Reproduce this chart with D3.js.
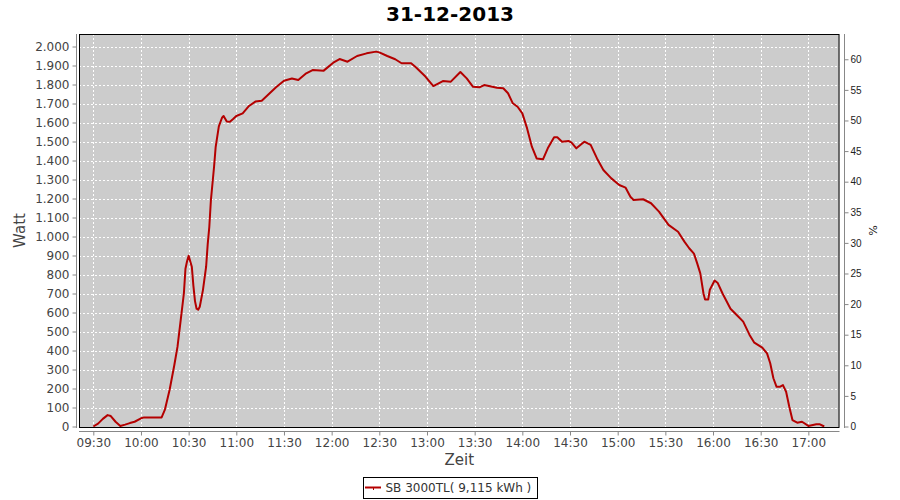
<!DOCTYPE html>
<html>
<head>
<meta charset="utf-8">
<script src="https://cdn.jsdelivr.net/npm/d3@7"></script>
<style>
  html, body { margin: 0; padding: 0; background: #fff; }
  svg { display: block; }
</style>
</head>
<body>
<svg id="chart" width="900" height="500"></svg>
<script>
const chartTitle = "31-12-2013";
const yLabel = "Watt";
const xLabel = "Zeit";
const y2Label = "%";
const legendLabel = "SB 3000TL( 9,115 kWh )";

const times = [
  "09:30","09:33","09:36","09:39","09:41","09:44","09:47","09:50","09:53","09:56",
  "10:00","10:02","10:08","10:13","10:15","10:18","10:21","10:23","10:25","10:27",
  "10:28","10:29","10:30","10:32","10:33","10:34","10:35","10:36","10:37","10:39",
  "10:41","10:42","10:43","10:44","10:46","10:47","10:49","10:51","10:52","10:53",
  "10:54","10:56","10:58","11:00","11:04","11:08","11:12","11:16","11:21","11:25",
  "11:30","11:35","11:39","11:44","11:48","11:55","12:01","12:05","12:10","12:16",
  "12:22","12:28","12:30","12:35","12:40","12:44","12:50","12:53","12:59","13:04",
  "13:10","13:15","13:21","13:25","13:29","13:33","13:36","13:44","13:48","13:51",
  "13:54","13:57","14:00","14:03","14:06","14:09","14:13","14:16","14:20","14:22",
  "14:25","14:29","14:31","14:34","14:39","14:43","14:47","14:51","14:56","15:01",
  "15:05","15:08","15:10","15:16","15:21","15:26","15:32","15:38","15:42","15:45",
  "15:48","15:50","15:52","15:54","15:55","15:57","15:58","16:01","16:03","16:06",
  "16:11","16:16","16:19","16:23","16:26","16:31","16:34","16:36","16:38","16:40",
  "16:42","16:44","16:46","16:48","16:50","16:53","16:56","17:00","17:05","17:07",
  "17:10"
];
const watts = [
  0,15,40,60,55,25,3,10,18,25,
  43,48,48,48,87,192,324,420,560,700,
  830,870,899,841,740,660,620,615,630,718,
  841,960,1050,1190,1367,1470,1580,1625,1634,1620,
  1605,1604,1618,1634,1648,1687,1710,1715,1754,1785,
  1820,1832,1824,1859,1876,1873,1915,1934,1920,1950,
  1964,1973,1969,1950,1933,1912,1912,1891,1842,1792,
  1818,1815,1866,1832,1788,1785,1797,1783,1780,1754,
  1701,1683,1648,1569,1473,1411,1406,1464,1522,1522,
  1499,1503,1494,1464,1499,1482,1411,1350,1306,1271,
  1257,1209,1192,1196,1175,1131,1061,1025,973,938,
  910,860,806,700,669,669,720,768,755,700,
  620,578,552,482,441,415,385,333,254,209,
  209,218,183,104,34,20,25,3,12,12,
  0
];
const xTickLabels = ["09:30","10:00","10:30","11:00","11:30","12:00","12:30","13:00","13:30","14:00","14:30","15:00","15:30","16:00","16:30","17:00"];
const yTickValues = d3.range(0, 2001, 100);
const pctTickValues = d3.range(0, 61, 5);

const parse = d3.timeParse("%H:%M");
const parseS = d3.timeParse("%H:%M:%S");
const data = times.map((t, i) => ({ t: parse(t), w: watts[i] }));

const svg = d3.select("#chart");
const plot = { left: 79, right: 839.5, top: 34, bottom: 427 };

const x = d3.scaleTime()
  .domain([parseS("09:21:00"), parseS("17:19:36")])
  .range([plot.left, plot.right]);
const y = d3.scaleLinear().domain([0, 2065.8]).range([426.5, plot.top]);
const y2 = d3.scaleLinear().domain([0, 64.13]).range([426.5, plot.top]);

const de = d3.formatLocale({ decimal: ",", thousands: ".", grouping: [3], currency: ["", "€"] });
const fmt = de.format(",d");

// plot background
svg.append("rect")
  .attr("x", plot.left).attr("y", plot.top)
  .attr("width", plot.right - plot.left).attr("height", plot.bottom - plot.top)
  .attr("fill", "#cccccc");

// grid
const grid = svg.append("g").attr("stroke", "#ffffff").attr("stroke-width", 1).attr("stroke-dasharray", "2,2");
yTickValues.forEach(v => {
  grid.append("line")
    .attr("x1", plot.left).attr("x2", plot.right)
    .attr("y1", Math.round(y(v)) + 0.5).attr("y2", Math.round(y(v)) + 0.5);
});
xTickLabels.forEach(s => {
  const px = Math.round(x(parse(s))) + 0.5;
  grid.append("line")
    .attr("x1", px).attr("x2", px)
    .attr("y1", plot.top).attr("y2", plot.bottom);
});

// line
svg.append("path")
  .datum(data)
  .attr("fill", "none")
  .attr("stroke", "#b40000")
  .attr("stroke-width", 2)
  .attr("stroke-linejoin", "round")
  .attr("d", d3.line().x(d => x(d.t)).y(d => y(d.w)));

// plot border
svg.append("rect")
  .attr("x", plot.left + 0.5).attr("y", plot.top + 0.5)
  .attr("width", plot.right - plot.left - 1).attr("height", plot.bottom - plot.top)
  .attr("fill", "none").attr("stroke", "#000").attr("stroke-width", 1);

// left axis
const leftAxis = d3.axisLeft(y).tickValues(yTickValues).tickFormat(fmt).tickSizeInner(4).tickSizeOuter(0).tickPadding(3);
const gL = svg.append("g").attr("transform", "translate(76.5,0)").call(leftAxis);
gL.select(".domain").attr("stroke", "#888").attr("d", `M0,${plot.top}V${plot.bottom + 1}`);
gL.selectAll(".tick line").attr("stroke", "#888");
gL.selectAll(".tick text").attr("fill", "#444").style("font-family", "DejaVu Sans").style("font-size", "12px");

// right axis
const rightAxis = d3.axisRight(y2).tickValues(pctTickValues).tickFormat(d3.format("d")).tickSizeInner(4).tickSizeOuter(0).tickPadding(2);
const gR = svg.append("g").attr("transform", "translate(844.5,0)").call(rightAxis);
gR.select(".domain").attr("stroke", "#888").attr("d", `M0,${plot.top}V${plot.bottom + 1}`);
gR.selectAll(".tick line").attr("stroke", "#888");
gR.selectAll(".tick text").attr("fill", "#222").style("font-family", "Liberation Sans").style("font-size", "10px");

// bottom axis
const bottomAxis = d3.axisBottom(x).tickValues(xTickLabels.map(parse)).tickFormat(d3.timeFormat("%H:%M")).tickSizeInner(4).tickSizeOuter(0).tickPadding(3);
const gB = svg.append("g").attr("transform", "translate(0,431.5)").call(bottomAxis);
gB.select(".domain").attr("stroke", "#888").attr("d", `M${plot.left},0H${plot.right}`);
gB.selectAll(".tick line").attr("stroke", "#888");
gB.selectAll(".tick text").attr("fill", "#444").style("font-family", "DejaVu Sans").style("font-size", "12px");

// title
svg.append("text")
  .attr("x", 450).attr("y", 21)
  .attr("text-anchor", "middle")
  .style("font-family", "DejaVu Sans").style("font-weight", "bold").style("font-size", "20px")
  .attr("fill", "#000")
  .text(chartTitle);

// axis labels
svg.append("text")
  .attr("transform", `translate(25,${(plot.top + plot.bottom) / 2}) rotate(-90)`)
  .attr("text-anchor", "middle")
  .style("font-family", "DejaVu Sans").style("font-size", "15px")
  .attr("fill", "#444")
  .text(yLabel);

svg.append("text")
  .attr("x", (plot.left + plot.right) / 2).attr("y", 465)
  .attr("text-anchor", "middle")
  .style("font-family", "DejaVu Sans").style("font-size", "15px")
  .attr("fill", "#444")
  .text(xLabel);

svg.append("text")
  .attr("transform", `translate(869,${(plot.top + plot.bottom) / 2}) rotate(90)`)
  .attr("text-anchor", "middle")
  .style("font-family", "DejaVu Sans").style("font-size", "11px")
  .attr("fill", "#222")
  .text(y2Label);

// legend
const lg = svg.append("g");
lg.append("rect")
  .attr("x", 363.5).attr("y", 477.5).attr("width", 174).attr("height", 21)
  .attr("fill", "#fff").attr("stroke", "#000").attr("stroke-width", 1);
lg.append("line")
  .attr("x1", 365).attr("x2", 381).attr("y1", 487.5).attr("y2", 487.5)
  .attr("stroke", "#b40000").attr("stroke-width", 2);
lg.append("line")
  .attr("x1", 373.5).attr("x2", 373.5).attr("y1", 488).attr("y2", 490)
  .attr("stroke", "#b40000").attr("stroke-width", 1);
lg.append("text")
  .attr("x", 385.5).attr("y", 491.5)
  .style("font-family", "DejaVu Sans").style("font-size", "12px")
  .attr("fill", "#333")
  .text(legendLabel);
</script>
</body>
</html>
